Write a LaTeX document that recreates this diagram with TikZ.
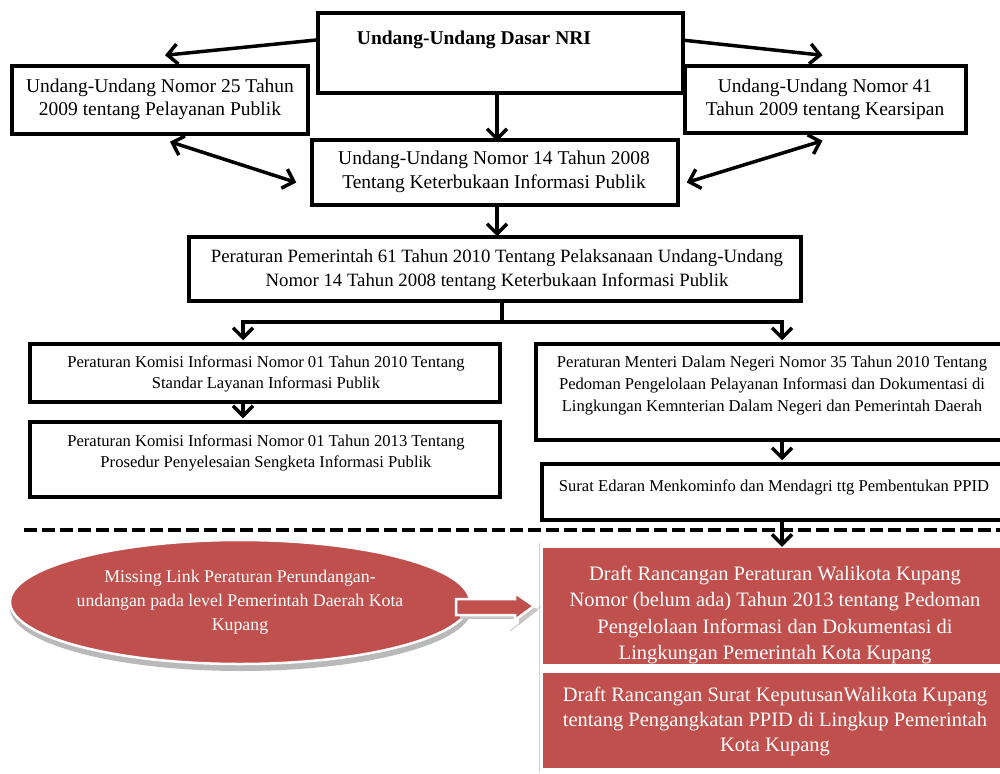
\documentclass[tikz,border=0pt]{standalone}
\usepackage{fontspec}
\setmainfont{Liberation Serif}
\usetikzlibrary{arrows.meta,shapes.geometric,calc}
\definecolor{redfill}{HTML}{C0504D}
\tikzset{
  bbox/.style={draw=black, line width=3.5pt, fill=white, inner sep=0pt},
  txt/.style={align=center, inner sep=0pt, text=black},
  wtxt/.style={align=center, inner sep=0pt, text=white},
  redbox/.style={fill=redfill, draw=none, inner sep=0pt},
  tipb/.tip={Straight Barb[length=10pt,width=20pt,line width=3.5pt]},
  arr/.style={line width=3.5pt, -tipb},
  darr/.style={line width=3.5pt, tipb-tipb},
}
\begin{document}
\begin{tikzpicture}[x=1pt,y=-1pt]
\useasboundingbox (0,0) rectangle (1000,773);
\clip (0,0) rectangle (1000,773);
\fill[white] (0,0) rectangle (1000,773);

% ---------- top boxes ----------
\node[bbox, minimum width=365, minimum height=80] (uud) at (500.5,53) {};
\node[txt, font=\fontsize{19.5}{23}\selectfont\bfseries] (uudt) at (474,40) {Undang-Undang Dasar NRI};

\node[bbox, minimum width=296, minimum height=68] (uu25) at (160,100) {};
\node[txt, font=\fontsize{19.5}{23}\selectfont] (uu25t) at (160,99) {Undang-Undang Nomor 25 Tahun\\2009 tentang Pelayanan Publik};

\node[bbox, minimum width=281, minimum height=67] (uu41) at (825.5,99.5) {};
\node[txt, font=\fontsize{19.5}{23}\selectfont] (uu41t) at (825,99) {Undang-Undang Nomor 41\\Tahun 2009 tentang Kearsipan};

\node[bbox, minimum width=366, minimum height=65] (uu14) at (495,172.5) {};
\node[txt, font=\fontsize{19.5}{24}\selectfont] (uu14t) at (494,172) {Undang-Undang Nomor 14 Tahun 2008\\Tentang Keterbukaan Informasi Publik};

\node[bbox, minimum width=612, minimum height=64] (pp61) at (495,269) {};
\node[txt, font=\fontsize{18.8}{24}\selectfont] (pp61t) at (497,270) {Peraturan Pemerintah 61 Tahun 2010 Tentang Pelaksanaan Undang-Undang\\Nomor 14 Tahun 2008 tentang Keterbukaan Informasi Publik};

% ---------- middle boxes ----------
\node[bbox, minimum width=470, minimum height=58] (pk10) at (265,373) {};
\node[txt, font=\fontsize{16.6}{20.5}\selectfont] (pk10t) at (266,374) {Peraturan Komisi Informasi Nomor 01 Tahun 2010 Tentang\\Standar Layanan Informasi Publik};

\node[bbox, minimum width=470, minimum height=75] (pk13) at (265,459.5) {};
\node[txt, font=\fontsize{16.6}{21}\selectfont] (pk13t) at (266,453) {Peraturan Komisi Informasi Nomor 01 Tahun 2013 Tentang\\Prosedur Penyelesaian Sengketa Informasi Publik};

\node[bbox, minimum width=474, minimum height=96] (mdn) at (773,392) {};
\node[txt, font=\fontsize{16.6}{22}\selectfont] (mdnt) at (772,386) {Peraturan Menteri Dalam Negeri Nomor 35 Tahun 2010 Tentang\\Pedoman Pengelolaan Pelayanan Informasi dan Dokumentasi di\\Lingkungan Kemnterian Dalam Negeri dan Pemerintah Daerah};

\node[bbox, minimum width=468, minimum height=56] (se) at (776,492) {};
\node[txt, font=\fontsize{16.6}{22}\selectfont] (set) at (774,487) {Surat Edaran Menkominfo dan Mendagri ttg Pembentukan PPID};

% ---------- dashed separator ----------
\coordinate (dl) at (24,530);
\coordinate (dr) at (1000,530);
\draw[line width=4pt, dash pattern=on 13pt off 5pt] (dl) -- (dr);

% ---------- red part ----------
\draw[gray!35, line width=1pt] (539,543) -- (539,773);
\draw[gray!40, line width=1pt] (510,631) -- (541,606);

\node[redbox, minimum width=470, minimum height=116] (r1) at (778,606) {};
\begin{scope}
\clip (543,548) rectangle (1010,664);
\node[wtxt, font=\fontsize{20.5}{26.3}\selectfont] (r1t) at (775,615) {Draft Rancangan Peraturan Walikota Kupang\\Nomor (belum ada) Tahun 2013 tentang Pedoman\\Pengelolaan Informasi dan Dokumentasi di\\Lingkungan Pemerintah Kota Kupang};
\end{scope}

\node[redbox, minimum width=470, minimum height=95] (r2) at (778,720.5) {};
\node[wtxt, font=\fontsize{20.5}{25}\selectfont] (r2t) at (775,721) {Draft Rancangan Surat KeputusanWalikota Kupang\\tentang Pengangkatan PPID di Lingkup Pemerintah\\Kota Kupang};

% ellipse with shadow
\fill[gray!55] (241,608) ellipse [x radius=231, y radius=63];
\node[ellipse, fill=redfill, draw=white, line width=2.5pt, minimum width=460, minimum height=124, inner sep=0pt] (ml) at (240,602) {};
\node[wtxt, font=\fontsize{17.8}{24}\selectfont] (mlt) at (240,602) {Missing Link Peraturan Perundangan-\\undangan pada level Pemerintah Daerah Kota\\Kupang};

% block arrow
\fill[gray!45] (460,603) -- (519,603) -- (519,597) -- (538,610) -- (519,625) -- (519,619) -- (460,619) -- cycle;
\filldraw[fill=redfill, draw=white, line width=2.5pt] (456,599) -- (515,599) -- (515,593) -- (534,606) -- (515,620) -- (515,615) -- (456,615) -- cycle;

% ---------- connectors ----------
\draw[arr] ([yshift=13pt]uud.west) -- ([xshift=5pt,yshift=9pt]uu25.north);
\draw[arr] ([yshift=13pt,xshift=-3pt]uud.east) -- ([xshift=-3pt,yshift=9pt]uu41.north);
\draw[arr] ([xshift=-3.5pt]uud.south) -- ([xshift=-3.5pt,yshift=-3pt]uud.south |- uu14.north);
\draw[darr] ([xshift=10pt,yshift=-6pt]uu25.south) -- ([xshift=-14pt,yshift=-10pt]uu14.west);
\draw[darr] ([xshift=-3pt,yshift=-6pt]uu41.south) -- ([xshift=7pt,yshift=-10pt]uu14.east);
\draw[arr] ([xshift=2pt]uu14.south) -- ([xshift=2pt,yshift=-1pt]uu14.south |- pp61.north);

\coordinate (br) at ([xshift=7pt,yshift=-19pt]pp61.south);
\draw[line width=3.5pt] ([xshift=7pt]pp61.south) -- (br);
\draw[arr] (br) -| ([xshift=-22pt,yshift=2pt]pk10.north);
\draw[arr] (br) -| ([xshift=9pt,yshift=2pt]mdn.north);

\draw[arr] ([xshift=-22pt]pk10.south) -- ([xshift=-22pt,yshift=2pt]pk13.north);
\draw[arr] ([xshift=9pt]mdn.south) -- ([xshift=9pt,yshift=2pt]mdn.south |- se.north);
\draw[arr] ([xshift=6pt]se.south) -- ([xshift=6pt,yshift=1pt]se.south |- r1.north);
\end{tikzpicture}
\end{document}
